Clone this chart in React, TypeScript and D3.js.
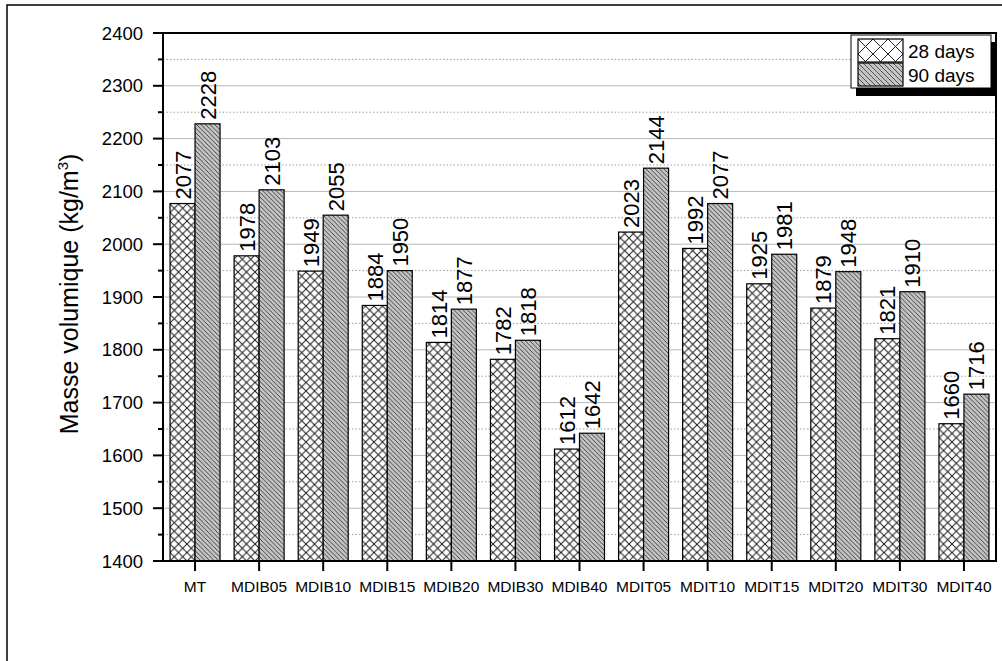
import React from "react";
import * as d3 from "d3";

const categories = ["MT", "MDIB05", "MDIB10", "MDIB15", "MDIB20", "MDIB30", "MDIB40", "MDIT05", "MDIT10", "MDIT15", "MDIT20", "MDIT30", "MDIT40"];
const days28 = [2077, 1978, 1949, 1884, 1814, 1782, 1612, 2023, 1992, 1925, 1879, 1821, 1660];
const days90 = [2228, 2103, 2055, 1950, 1877, 1818, 1642, 2144, 2077, 1981, 1948, 1910, 1716];
const yTicks = [1400, 1500, 1600, 1700, 1800, 1900, 2000, 2100, 2200, 2300, 2400];
const seriesNames = ["28 days", "90 days"];

const W = 1002, H = 661;
const L = 163, R = 996, T = 33, B = 561;
const FONT = "Arial, 'Liberation Sans', sans-serif";

export default function App() {
  const y = d3.scaleLinear().domain([1400, 2400]).range([B, T]);
  const x = d3.scaleBand().domain(categories).range([L, R]).padding(0);
  const barW = 25;
  const minor = d3.range(1450, 2400, 100);
  const majorGrid = yTicks.filter((t) => t > 1400 && t < 2400);

  return (
    <svg width={W} height={H} style={{ position: "absolute", left: 0, top: 0, background: "#fff" }} fontFamily={FONT}>
      <defs>
        <pattern id="cross" patternUnits="userSpaceOnUse" width={8.5} height={8.5}>
          <rect width={8.5} height={8.5} fill="#fff" />
          <path d="M0,0L8.5,8.5M0,8.5L8.5,0" stroke="#1a1a1a" strokeWidth={1} />
        </pattern>
        <pattern id="diag" patternUnits="userSpaceOnUse" width={4.5} height={4.5}>
          <rect width={4.5} height={4.5} fill="#c4c4c4" />
          <path d="M-1,-1L5.5,5.5M-1,3.5L1,5.5M3.5,-1L5.5,1" stroke="#2a2a2a" strokeWidth={0.85} />
        </pattern>
        <pattern id="crossL" patternUnits="userSpaceOnUse" width={15} height={15} x={858} y={39}>
          <rect width={15} height={15} fill="#fff" />
          <path d="M0,0L15,15M0,15L15,0" stroke="#222" strokeWidth={1} />
        </pattern>
        <pattern id="diagL" patternUnits="userSpaceOnUse" width={5} height={5}>
          <rect width={5} height={5} fill="#c4c4c4" />
          <path d="M-1,-1L6,6M-1,4L1,6M4,-1L6,1" stroke="#333" strokeWidth={0.8} />
        </pattern>
      </defs>

      {/* outer frame */}
      <rect x={7} y={5} width={1200} height={1000} fill="none" stroke="#000" strokeWidth={1.5} />

      {/* grid */}
      {majorGrid.map((t) => (
        <line key={"g" + t} x1={L} x2={R} y1={y(t)} y2={y(t)} stroke="#b8b8b8" strokeWidth={1} />
      ))}
      {minor.map((t) => (
        <line key={"m" + t} x1={L} x2={R} y1={y(t)} y2={y(t)} stroke="#a0a0a0" strokeWidth={1} strokeDasharray="1.5,2" />
      ))}

      {/* bars */}
      {categories.map((c, i) => {
        const cx = (x(c) as number) + x.bandwidth() / 2;
        return (
          <g key={c}>
            <rect x={cx - barW} y={y(days28[i])} width={barW} height={B - y(days28[i])} fill="url(#cross)" stroke="#000" strokeWidth={1.2} />
            <rect x={cx} y={y(days90[i])} width={barW} height={B - y(days90[i])} fill="url(#diag)" stroke="#000" strokeWidth={1.2} />
            <text transform={`translate(${cx - barW / 2 + 8},${y(days28[i]) - 4}) rotate(-90)`} fontSize={22} fill="#000">{days28[i]}</text>
            <text transform={`translate(${cx + barW / 2 + 8},${y(days90[i]) - 4}) rotate(-90)`} fontSize={22} fill="#000">{days90[i]}</text>
          </g>
        );
      })}

      {/* plot frame */}
      <rect x={L} y={T} width={R - L} height={B - T} fill="none" stroke="#000" strokeWidth={2} />

      {/* y axis ticks */}
      {yTicks.map((t) => (
        <g key={"yt" + t}>
          <line x1={L - 10} x2={L} y1={y(t)} y2={y(t)} stroke="#000" strokeWidth={2} />
          <text x={L - 20} y={y(t)} dy="0.36em" textAnchor="end" fontSize={18.5} fill="#000">{t}</text>
        </g>
      ))}
      {minor.map((t) => (
        <line key={"ymt" + t} x1={L - 5} x2={L} y1={y(t)} y2={y(t)} stroke="#000" strokeWidth={2} />
      ))}

      {/* x axis ticks */}
      {categories.map((c) => {
        const cx = (x(c) as number) + x.bandwidth() / 2;
        return (
          <g key={"xt" + c}>
            <line x1={cx} x2={cx} y1={B} y2={B + 10} stroke="#000" strokeWidth={2} />
            <text x={cx} y={592} textAnchor="middle" fontSize={15.5} fill="#000">{c}</text>
          </g>
        );
      })}

      {/* y title */}
      <text transform={`translate(78,${(T + B) / 2 - 3}) rotate(-90)`} textAnchor="middle" fontSize={25} fill="#000">
        Masse volumique (kg/m<tspan dy={-10} fontSize={15}>3</tspan><tspan dy={10}>)</tspan>
      </text>

      {/* legend */}
      <rect x={856} y={42} width={140} height={54} fill="#000" />
      <rect x={851} y={35} width={140} height={53} fill="#fff" stroke="#000" strokeWidth={1} />
      <rect x={858} y={39} width={45} height={23} fill="url(#crossL)" stroke="#000" strokeWidth={1.2} />
      <rect x={858} y={63} width={45} height={23} fill="url(#diagL)" stroke="#000" strokeWidth={1.2} />
      <text x={908} y={51} dy="0.36em" fontSize={19} fill="#000">{seriesNames[0]}</text>
      <text x={908} y={75} dy="0.36em" fontSize={19} fill="#000">{seriesNames[1]}</text>
    </svg>
  );
}
